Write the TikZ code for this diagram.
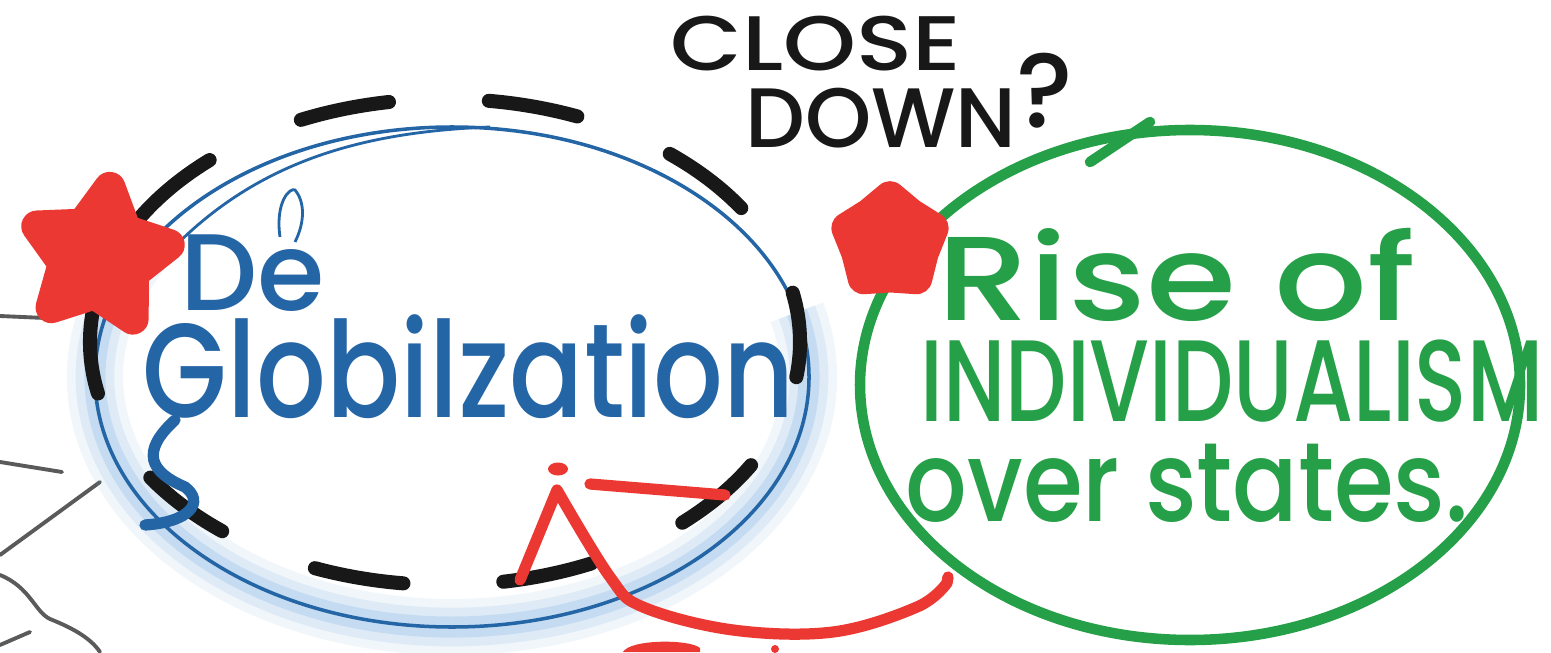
\documentclass[tikz,border=0pt]{standalone}
\usepackage{fontspec}
\usepackage{graphicx}
\setmainfont{Poppins Medium}
\usetikzlibrary{shapes.geometric}
\definecolor{sketchBlue}{RGB}{36,101,166}
\definecolor{sketchBlueGlow}{RGB}{120,175,225}
\definecolor{sketchGreen}{RGB}{38,160,72}
\definecolor{sketchRed}{RGB}{236,56,50}
\definecolor{sketchInk}{RGB}{24,24,24}
\definecolor{sketchGray}{RGB}{90,90,90}

\begin{document}
\begin{tikzpicture}[
  inkword/.style={text=sketchInk, inner sep=0pt, align=left, anchor=north west},
  blueword/.style={text=sketchBlue, inner sep=0pt, align=left, anchor=north west},
  greenword/.style={text=sketchGreen, inner sep=0pt, align=left, anchor=north west},
  blob/.style={star, fill=sketchRed, draw=sketchRed, line width=9pt, line join=round, inner sep=0pt},
  scribble/.style={sketchGray, line width=1.1pt, line cap=round}
]
\fill[white] (0,0) rectangle (15.51,6.52);
\useasboundingbox (0,0) rectangle (15.51,6.52);

% loose strokes at the left edge
\draw[scribble] (0,3.36)--(0.45,3.34);
\draw[scribble] (0,1.90)--(0.62,1.80);
\draw[scribble] (0,0.97)--(1.0,1.70);
\draw[scribble] (0,0.77) .. controls (0.3,0.65) and (0.35,0.4) .. (0.5,0.33) .. controls (0.7,0.25) and (0.9,0.15) .. (1.0,0);
\draw[scribble] (0,0.07)--(0.3,0.2);

% glowing blue ring
\foreach \w/\o in {16/0.10,11/0.15,6/0.25}
  \draw[sketchBlueGlow, line width=\w pt, opacity=\o] (4.52,2.75) ++(150:3.57 and 2.5) arc[start angle=150, end angle=375, x radius=3.57, y radius=2.5];
\draw[sketchBlue, line width=1pt] (4.52,2.75) ellipse (3.57 and 2.5);
\draw[sketchBlue, line width=0.8pt] (1.6,3.9) .. controls (2.5,4.9) and (3.6,5.2) .. (4.9,5.25);
\draw[sketchBlue, line width=0.8pt] (2.8,4.15) .. controls (2.75,4.5) and (2.9,4.65) .. (2.95,4.62) .. controls (3.05,4.5) and (3.05,4.3) .. (2.95,4.1);

% dashed black ring
\draw[sketchInk, line width=4pt, line cap=round, dash pattern=on 0.9cm off 1.0cm, dash phase=0.4cm] (4.45,3.10) ellipse (3.55 and 2.43);

% words
\node[inkword, font=\fontsize{22}{22}\selectfont] (close) at (6.7,6.37)
  {\scalebox{1.2}[1]{CLOSE}\\
   \hspace*{0.75cm}{\fontsize{24}{22}\selectfont DOWN\raisebox{0.2cm}[0pt][0pt]{\fontsize{30}{22}\selectfont ?}}};

\node[blueword, font=\fontsize{38}{30.4}\selectfont] (globe) at (1.42,4.18)
  {\hspace*{0.38cm}{\fontsize{31}{30.4}\selectfont De}\\
   \scalebox{0.82}[1]{Globilzation}};
\draw[sketchBlue, line width=3.2pt, line cap=round] (1.75,2.32) .. controls (1.4,2.0) and (1.5,1.8) .. (1.85,1.65) .. controls (2.05,1.5) and (1.9,1.3) .. (1.45,1.27);

% green ring
\draw[sketchGreen, line width=3pt] (11.9,2.67) ellipse (3.3 and 2.55);
\draw[sketchGreen, line width=3pt, line cap=round] (10.9,4.9)--(11.5,5.3);
\node[greenword, font=\fontsize{33}{28.5}\selectfont] (rise) at (9.05,4.24)
  {\hspace*{0.32cm}\scalebox{1.22}[1]{\fontsize{34}{28.5}\selectfont Rise of}\\
   \hspace*{0.15cm}\scalebox{0.745}[1]{INDIVIDUALISM}\\
   \scalebox{0.86}[1]{\fontsize{32}{28.5}\selectfont over states.}};

% red marks
\node[blob, star points=5, star point ratio=1.9, minimum size=1.4cm, rotate=-8] (starleft) at (1.0,3.95) {};
\node[blob, star points=5, star point ratio=1.3, minimum size=0.9cm] (starright) at (8.9,4.1) {};

\coordinate (redstart) at (5.20,0.72);
\coordinate (redend) at (9.48,0.75);
\draw[sketchRed, line width=3.2pt, line cap=round, line join=round] (redstart) -- (5.57,1.62)
  -- plot[smooth, tension=0.6] coordinates {(5.57,1.62) (6.10,0.75) (6.43,0.45) (7.33,0.22) (8.33,0.20) (9.17,0.45) (9.47,0.69)} -- (redend);
\fill[sketchRed] (5.58,1.83) ellipse (0.1 and 0.065);
\draw[sketchRed, line width=3.2pt, line cap=round] (5.9,1.68)--(7.25,1.57);
\fill[sketchRed] (6.23,0) .. controls (6.3,0.13) and (6.9,0.13) .. (7.0,0.04) -- (7.0,0) -- cycle;
\fill[sketchRed] (7.75,0.03) circle (0.04);
\end{tikzpicture}
\end{document}
